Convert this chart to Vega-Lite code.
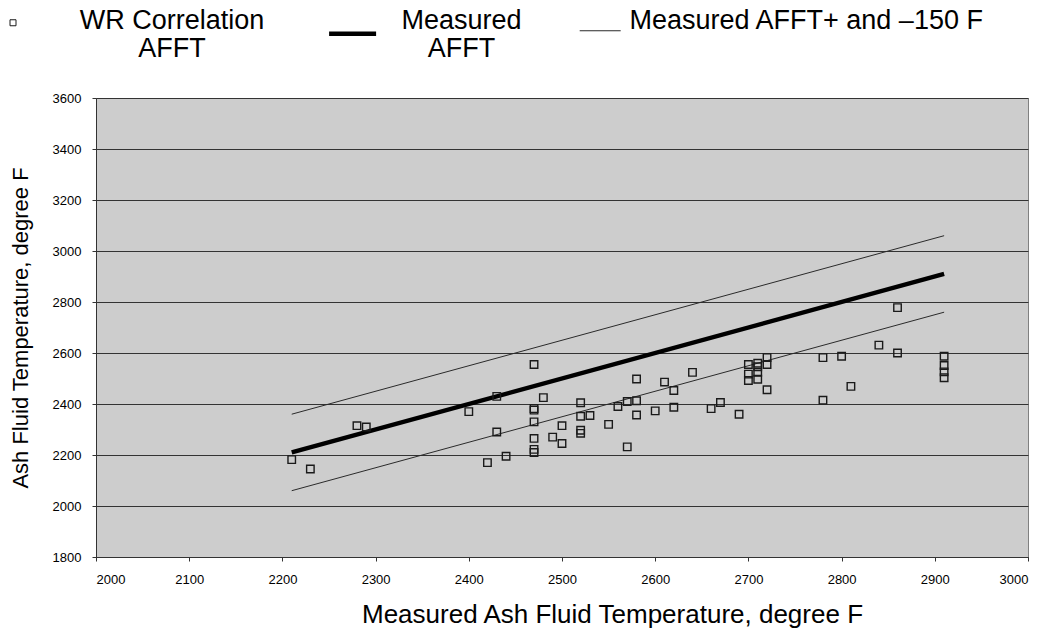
{
  "$schema": "https://vega.github.io/schema/vega-lite/v6.json",
  "width": 932,
  "height": 459,
  "autosize": {"type": "none"},
  "padding": {"left": 96, "top": 98, "right": 16, "bottom": 76},
  "background": "white",
  "config": {
    "font": "Liberation Sans",
    "view": {"fill": "#cdcdcd", "stroke": "#808080", "strokeWidth": 1},
    "axis": {
      "labelFont": "Liberation Sans",
      "labelFontSize": 13,
      "labelColor": "black",
      "titleFont": "Liberation Sans",
      "titleFontWeight": "normal",
      "titleColor": "black",
      "domainColor": "#333333",
      "tickColor": "#333333",
      "tickSize": 4,
      "format": "d"
    }
  },
  "datasets": {
    "points": [
      {"series": "WR Correlation AFFT", "x": 2210, "y": 2182},
      {"series": "WR Correlation AFFT", "x": 2230, "y": 2145},
      {"series": "WR Correlation AFFT", "x": 2280, "y": 2315},
      {"series": "WR Correlation AFFT", "x": 2290, "y": 2310},
      {"series": "WR Correlation AFFT", "x": 2400, "y": 2370},
      {"series": "WR Correlation AFFT", "x": 2430, "y": 2430},
      {"series": "WR Correlation AFFT", "x": 2430, "y": 2290},
      {"series": "WR Correlation AFFT", "x": 2420, "y": 2170},
      {"series": "WR Correlation AFFT", "x": 2440, "y": 2195},
      {"series": "WR Correlation AFFT", "x": 2470, "y": 2555},
      {"series": "WR Correlation AFFT", "x": 2470, "y": 2382},
      {"series": "WR Correlation AFFT", "x": 2470, "y": 2376},
      {"series": "WR Correlation AFFT", "x": 2470, "y": 2330},
      {"series": "WR Correlation AFFT", "x": 2470, "y": 2265},
      {"series": "WR Correlation AFFT", "x": 2470, "y": 2222},
      {"series": "WR Correlation AFFT", "x": 2470, "y": 2210},
      {"series": "WR Correlation AFFT", "x": 2480, "y": 2425},
      {"series": "WR Correlation AFFT", "x": 2500, "y": 2315},
      {"series": "WR Correlation AFFT", "x": 2490, "y": 2270},
      {"series": "WR Correlation AFFT", "x": 2500, "y": 2245},
      {"series": "WR Correlation AFFT", "x": 2520, "y": 2405},
      {"series": "WR Correlation AFFT", "x": 2520, "y": 2352},
      {"series": "WR Correlation AFFT", "x": 2520, "y": 2297},
      {"series": "WR Correlation AFFT", "x": 2520, "y": 2285},
      {"series": "WR Correlation AFFT", "x": 2530, "y": 2355},
      {"series": "WR Correlation AFFT", "x": 2550, "y": 2320},
      {"series": "WR Correlation AFFT", "x": 2560, "y": 2390},
      {"series": "WR Correlation AFFT", "x": 2570, "y": 2410},
      {"series": "WR Correlation AFFT", "x": 2570, "y": 2232},
      {"series": "WR Correlation AFFT", "x": 2580, "y": 2498},
      {"series": "WR Correlation AFFT", "x": 2580, "y": 2413},
      {"series": "WR Correlation AFFT", "x": 2580, "y": 2357},
      {"series": "WR Correlation AFFT", "x": 2600, "y": 2373},
      {"series": "WR Correlation AFFT", "x": 2610, "y": 2486},
      {"series": "WR Correlation AFFT", "x": 2620, "y": 2453},
      {"series": "WR Correlation AFFT", "x": 2620, "y": 2387},
      {"series": "WR Correlation AFFT", "x": 2640, "y": 2524},
      {"series": "WR Correlation AFFT", "x": 2660, "y": 2382},
      {"series": "WR Correlation AFFT", "x": 2670, "y": 2406},
      {"series": "WR Correlation AFFT", "x": 2690, "y": 2360},
      {"series": "WR Correlation AFFT", "x": 2700, "y": 2555},
      {"series": "WR Correlation AFFT", "x": 2700, "y": 2517},
      {"series": "WR Correlation AFFT", "x": 2700, "y": 2492},
      {"series": "WR Correlation AFFT", "x": 2710, "y": 2560},
      {"series": "WR Correlation AFFT", "x": 2710, "y": 2546},
      {"series": "WR Correlation AFFT", "x": 2710, "y": 2524},
      {"series": "WR Correlation AFFT", "x": 2710, "y": 2497},
      {"series": "WR Correlation AFFT", "x": 2720, "y": 2582},
      {"series": "WR Correlation AFFT", "x": 2720, "y": 2555},
      {"series": "WR Correlation AFFT", "x": 2720, "y": 2456},
      {"series": "WR Correlation AFFT", "x": 2780, "y": 2582},
      {"series": "WR Correlation AFFT", "x": 2780, "y": 2415},
      {"series": "WR Correlation AFFT", "x": 2800, "y": 2587},
      {"series": "WR Correlation AFFT", "x": 2810, "y": 2469},
      {"series": "WR Correlation AFFT", "x": 2840, "y": 2631},
      {"series": "WR Correlation AFFT", "x": 2860, "y": 2600},
      {"series": "WR Correlation AFFT", "x": 2860, "y": 2778},
      {"series": "WR Correlation AFFT", "x": 2910, "y": 2587},
      {"series": "WR Correlation AFFT", "x": 2910, "y": 2551},
      {"series": "WR Correlation AFFT", "x": 2910, "y": 2526},
      {"series": "WR Correlation AFFT", "x": 2910, "y": 2503}
    ],
    "lines": [
      {"series": "Measured AFFT", "line": "mid", "x": 2210, "y": 2210},
      {"series": "Measured AFFT", "line": "mid", "x": 2910, "y": 2910},
      {"series": "Measured AFFT+ and –150 F", "line": "upper", "x": 2210, "y": 2360},
      {"series": "Measured AFFT+ and –150 F", "line": "upper", "x": 2910, "y": 3060},
      {"series": "Measured AFFT+ and –150 F", "line": "lower", "x": 2210, "y": 2060},
      {"series": "Measured AFFT+ and –150 F", "line": "lower", "x": 2910, "y": 2760}
    ]
  },
  "layer": [
    {
      "data": {"name": "lines"},
      "mark": {"type": "line", "strokeCap": "butt"},
      "encoding": {
        "x": {
          "field": "x", "type": "quantitative",
          "scale": {"domain": [2000, 3000], "nice": false, "zero": false},
          "axis": {
            "values": [2000, 2100, 2200, 2300, 2400, 2500, 2600, 2700, 2800, 2900, 3000],
            "grid": false,
            "labelPadding": 12,
            "title": "Measured Ash Fluid Temperature, degree F",
            "titleFontSize": 26,
            "titleX": 516,
            "titleY": 65,
            "titleAlign": "center",
            "titleBaseline": "alphabetic",
            "titleAnchor": "start"
          }
        },
        "y": {
          "field": "y", "type": "quantitative",
          "scale": {"domain": [1800, 3600], "nice": false, "zero": false},
          "axis": {
            "values": [1800, 2000, 2200, 2400, 2600, 2800, 3000, 3200, 3400, 3600],
            "grid": true,
            "gridColor": "#333333",
            "gridOpacity": 1,
            "gridWidth": 1,
            "labelPadding": 11,
            "title": "Ash Fluid Temperature, degree F",
            "titleFontSize": 22,
            "titleAngle": 270,
            "titleX": -76,
            "titleY": 229.5,
            "titleAlign": "center",
            "titleBaseline": "middle",
            "titleAnchor": "start"
          }
        },
        "detail": {"field": "line"},
        "color": {
          "field": "series", "type": "nominal",
          "scale": {
            "domain": ["WR Correlation AFFT", "Measured AFFT", "Measured AFFT+ and –150 F"],
            "range": ["#1a1a1a", "#000000", "#2a2a2a"]
          },
          "legend": {
            "title": null,
            "orient": "none",
            "legendX": -96.5,
            "legendY": -91,
            "direction": "horizontal",
            "columns": 3,
            "columnPadding": 55.6,
            "padding": 0,
            "labelFont": "Liberation Sans",
            "labelFontSize": 27,
            "labelColor": "black",
            "labelAlign": "center",
            "labelOffset": 0,
            "labelLimit": 0,
            "labelExpr": "datum.index === 0 ? ['WR Correlation', 'AFFT'] : datum.index === 1 ? ['Measured', 'AFFT'] : [datum.label, ' ']",
            "symbolSize": 2209,
            "encode": {
              "symbols": {
                "update": {
                  "shape": {"signal": "datum.index === 0 ? 'M-1,-0.333H1V1.667H-1Z' : datum.index === 1 ? 'M-1,0.553L1,0.553' : 'M-1,0.488L1,0.488'"},
                  "size": {"signal": "datum.index === 0 ? 36 : datum.index === 1 ? 2209 : 1681"},
                  "strokeWidth": {"signal": "datum.index === 1 ? 4.5 : 1"},
                  "strokeCap": {"value": "butt"},
                  "stroke": {"signal": "datum.index === 2 ? '#777777' : '#000000'"},
                  "fill": {"value": "transparent"},
                  "opacity": {"value": 1}
                }
              },
              "labels": {
                "update": {
                  "dx": {"signal": "datum.index === 0 ? 145.5 : datum.index === 1 ? 95.5 : 192.5"},
                  "lineHeight": {"value": 28}
                }
              }
            }
          }
        },
        "strokeWidth": {
          "field": "series", "type": "nominal",
          "scale": {"domain": ["Measured AFFT", "Measured AFFT+ and –150 F"], "range": [4.5, 1]},
          "legend": null
        }
      }
    },
    {
      "data": {"name": "points"},
      "mark": {"type": "point", "shape": "square", "filled": false, "size": 56, "strokeWidth": 1.4, "opacity": 1},
      "encoding": {
        "x": {"field": "x", "type": "quantitative"},
        "y": {"field": "y", "type": "quantitative"},
        "color": {"field": "series", "type": "nominal"}
      }
    }
  ]
}
